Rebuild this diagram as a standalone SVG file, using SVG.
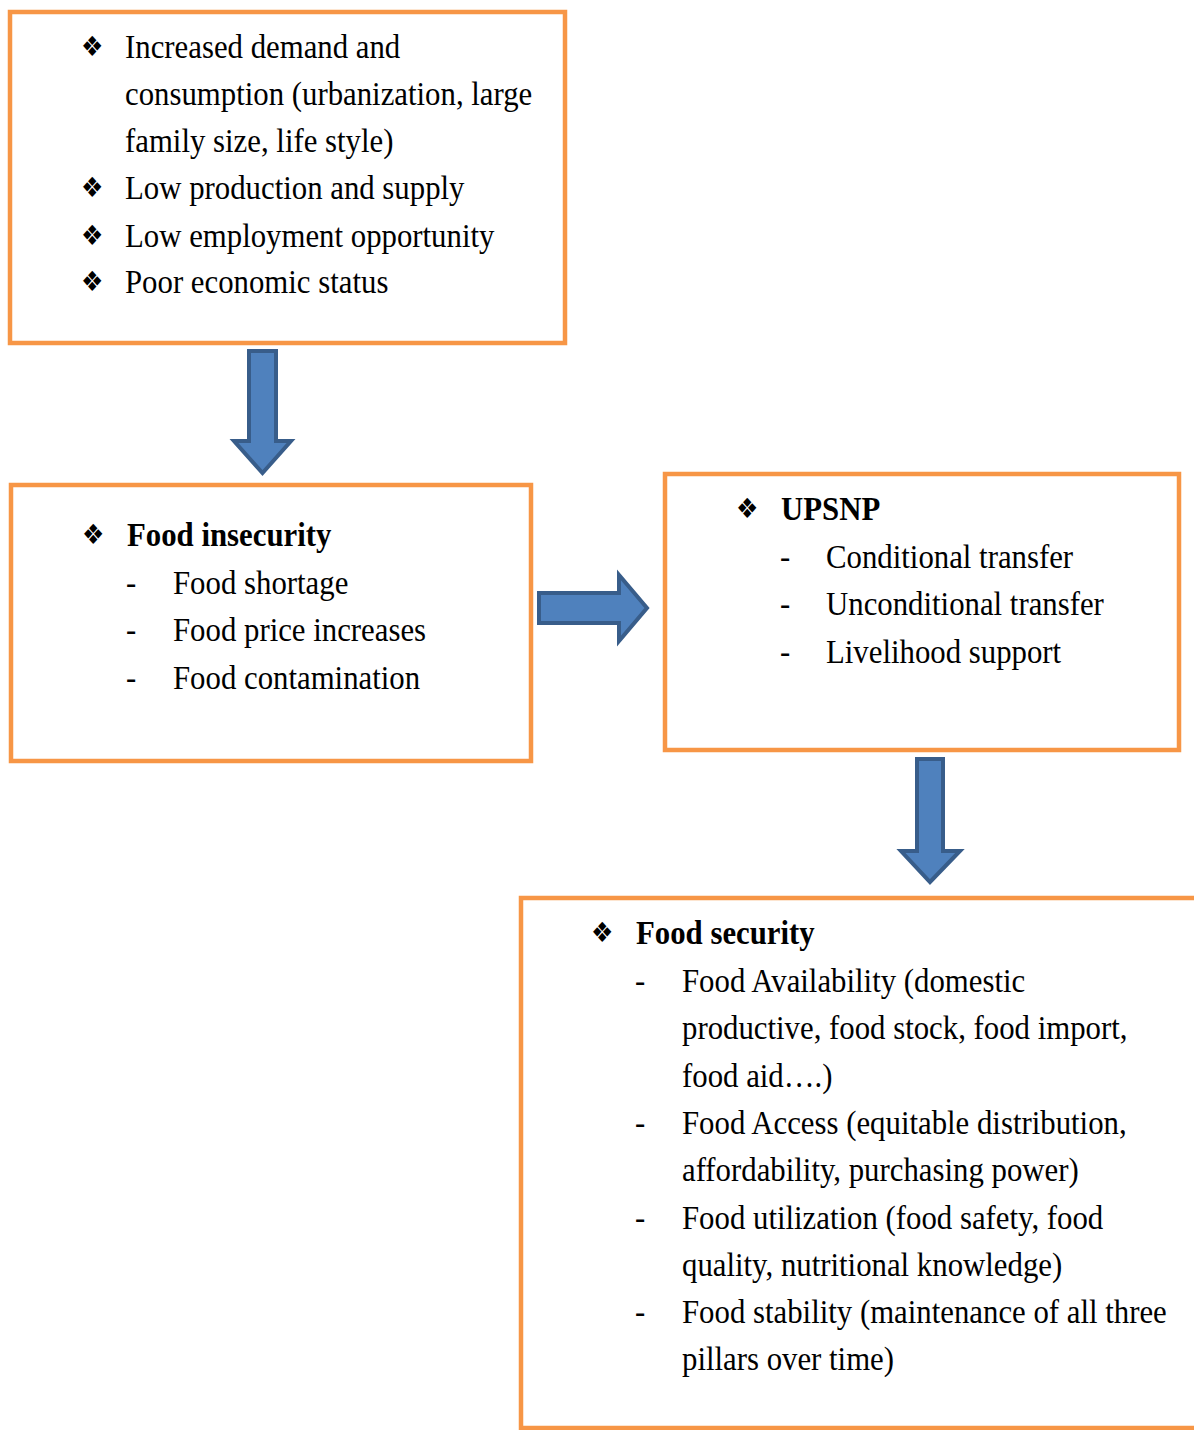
<svg xmlns="http://www.w3.org/2000/svg" width="1194" height="1430" viewBox="0 0 1194 1430">
<style>
.box{fill:#fff;stroke:#F79646;stroke-width:4.5}
.arr{fill:#4F81BD;stroke:#385D8A;stroke-width:4;stroke-linejoin:miter}
.t{font-family:"Liberation Serif","Times New Roman",serif;font-size:30.8px;fill:#000}
.b{font-family:"Liberation Serif","Times New Roman",serif;font-size:30.8px;font-weight:bold;fill:#000}
.bul{font-family:"DejaVu Sans",sans-serif;font-size:25px;fill:#000}
</style>
<rect width="1194" height="1430" fill="#fff"/>
<g id="connectors">
<polygon class="arr" points="249,351 276,351 276,441 291,441 262.5,473 234,441 249,441"/>
<polygon class="arr" points="539,593 619,593 619,575 647,608 619,641 619,623 539,623"/>
<polygon class="arr" points="917,759 943,759 943,851 960,851 930,882 901,851 917,851"/>
</g>
<g id="node-causes">
<rect class="box" x="10" y="12" width="555" height="331"/>
<text class="bul" transform="translate(81,56) scale(1,1.12)">❖</text>
<text class="t" transform="translate(125,58) scale(1,1.12)">Increased demand and</text>
<text class="t" transform="translate(125,105) scale(1,1.12)">consumption (urbanization, large</text>
<text class="t" transform="translate(125,152) scale(1,1.12)">family size, life style)</text>
<text class="bul" transform="translate(81,197) scale(1,1.12)">❖</text>
<text class="t" transform="translate(125,199) scale(1,1.12)">Low production and supply</text>
<text class="bul" transform="translate(81,245) scale(1,1.12)">❖</text>
<text class="t" transform="translate(125,247) scale(1,1.12)">Low employment opportunity</text>
<text class="bul" transform="translate(81,291) scale(1,1.12)">❖</text>
<text class="t" transform="translate(125,293) scale(1,1.12)">Poor economic status</text>
</g>
<g id="node-insecurity">
<rect class="box" x="11" y="485" width="520" height="276"/>
<text class="bul" transform="translate(82,544) scale(1,1.12)">❖</text>
<text class="b" transform="translate(127,546) scale(1,1.12)">Food insecurity</text>
<text class="t" transform="translate(126,594) scale(1,1.12)">-</text>
<text class="t" transform="translate(173,594) scale(1,1.12)">Food shortage</text>
<text class="t" transform="translate(126,641) scale(1,1.12)">-</text>
<text class="t" transform="translate(173,641) scale(1,1.12)">Food price increases</text>
<text class="t" transform="translate(126,689) scale(1,1.12)">-</text>
<text class="t" transform="translate(173,689) scale(1,1.12)">Food contamination</text>
</g>
<g id="node-upsnp">
<rect class="box" x="665" y="474" width="514" height="276"/>
<text class="bul" transform="translate(736,518) scale(1,1.12)">❖</text>
<text class="b" transform="translate(781,520) scale(1,1.12)">UPSNP</text>
<text class="t" transform="translate(780,568) scale(1,1.12)">-</text>
<text class="t" transform="translate(826,568) scale(1,1.12)">Conditional transfer</text>
<text class="t" transform="translate(780,615) scale(1,1.12)">-</text>
<text class="t" transform="translate(826,615) scale(1,1.12)">Unconditional transfer</text>
<text class="t" transform="translate(780,663) scale(1,1.12)">-</text>
<text class="t" transform="translate(826,663) scale(1,1.12)">Livelihood support</text>
</g>
<g id="node-security">
<rect class="box" x="521" y="898" width="700" height="530"/>
<text class="bul" transform="translate(591,942) scale(1,1.12)">❖</text>
<text class="b" transform="translate(636,944) scale(1,1.12)">Food security</text>
<text class="t" transform="translate(635,992) scale(1,1.12)">-</text>
<text class="t" transform="translate(682,992) scale(1,1.12)">Food Availability (domestic</text>
<text class="t" transform="translate(682,1039) scale(1,1.12)">productive, food stock, food import,</text>
<text class="t" transform="translate(682,1087) scale(1,1.12)">food aid….)</text>
<text class="t" transform="translate(635,1134) scale(1,1.12)">-</text>
<text class="t" transform="translate(682,1134) scale(1,1.12)">Food Access (equitable distribution,</text>
<text class="t" transform="translate(682,1181) scale(1,1.12)">affordability, purchasing power)</text>
<text class="t" transform="translate(635,1229) scale(1,1.12)">-</text>
<text class="t" transform="translate(682,1229) scale(1,1.12)">Food utilization (food safety, food</text>
<text class="t" transform="translate(682,1276) scale(1,1.12)">quality, nutritional knowledge)</text>
<text class="t" transform="translate(635,1323) scale(1,1.12)">-</text>
<text class="t" transform="translate(682,1323) scale(1,1.12)">Food stability (maintenance of all three</text>
<text class="t" transform="translate(682,1370) scale(1,1.12)">pillars over time)</text>
</g>
</svg>
